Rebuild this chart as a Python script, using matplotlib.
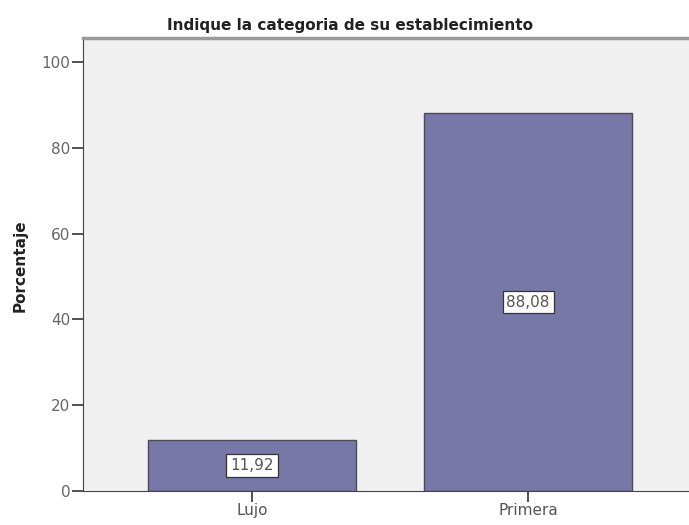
import matplotlib
matplotlib.use('Agg')
import matplotlib.pyplot as plt

# Data
categories = ['Lujo', 'Primera']
percentages = [11.92, 88.08]
value_labels = ['11,92', '88,08']
yticks = [0, 20, 40, 60, 80, 100]

plt.rcParams['font.family'] = ['DejaVu Sans']

fig = plt.figure(figsize=(6.89, 5.25), dpi=100)
ax = fig.add_axes([0.1205, 0.0648, 0.8795, 0.8628])
ax.set_facecolor('#f0f0f0')

x = list(range(len(categories)))
ax.bar(x, percentages, width=0.754, color='#7878a8', edgecolor='#4a4a5a', linewidth=1.0, zorder=2)

# value labels in white boxes, centred in each bar
for xi, val, lab in zip(x, percentages, value_labels):
    ax.text(xi, val / 2, lab, ha='center', va='center', fontsize=11, color='#555555',
            bbox=dict(boxstyle='square,pad=0.25', facecolor='white', edgecolor='#333333', linewidth=0.9),
            zorder=3)

ax.set_xlim(-0.612, 1.583)
ax.set_ylim(0, 105.6)
ax.set_xticks(x)
ax.set_xticklabels(categories, fontsize=11, color='#555555')
ax.set_yticks(yticks)
ax.set_yticklabels([str(t) for t in yticks], fontsize=11, color='#666666')
ax.tick_params(axis='both', direction='out', length=8, width=1.2, color='#333333', pad=1)

ax.spines['top'].set_color('#9a9a9a')
ax.spines['top'].set_linewidth(2.5)
ax.spines['right'].set_visible(False)
ax.spines['left'].set_color('#444444')
ax.spines['bottom'].set_color('#444444')

fig.text(20 / 689, 1 - 266 / 525, 'Porcentaje', rotation=90, ha='center', va='center',
         fontsize=11, fontweight='bold', color='#222222')
fig.text(350 / 689, 1 - 30 / 525, 'Indique la categoria de su establecimiento',
         ha='center', va='baseline', fontsize=11, fontweight='bold', color='#222222')

fig.savefig('out.png', dpi=100)
